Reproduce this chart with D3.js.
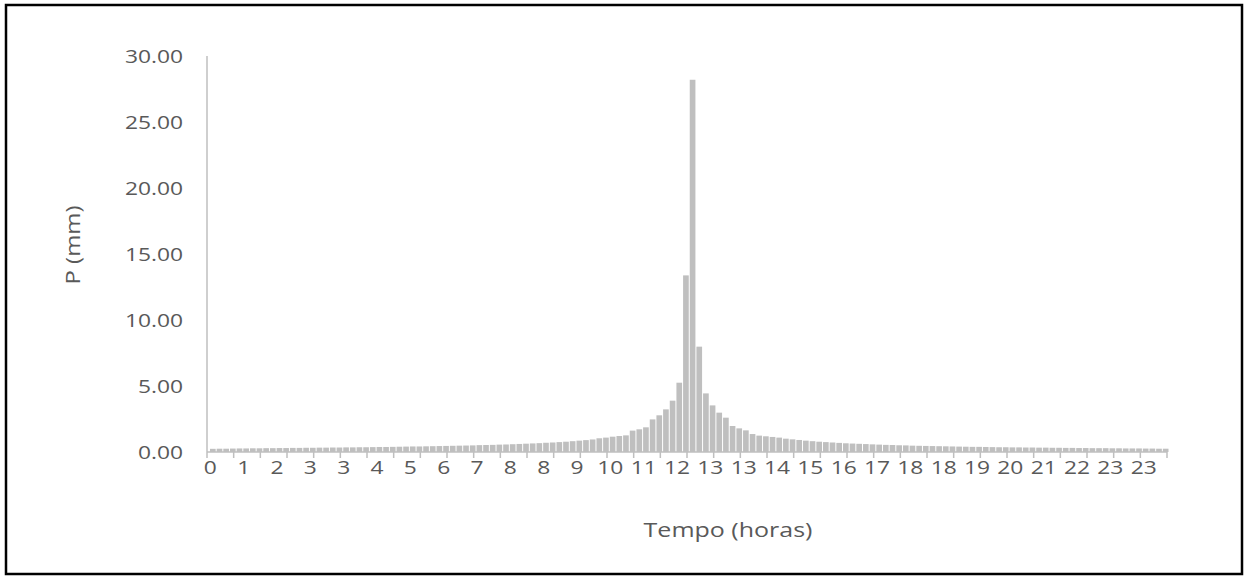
<!DOCTYPE html>
<html>
<head>
<meta charset="utf-8">
<script src="https://cdn.jsdelivr.net/npm/d3@7"></script>
<style>
  body { margin: 0; background: #fff; }
  text { font-family: "Open Sans", sans-serif; fill: #595959; }
</style>
</head>
<body>
<svg id="chart" width="1244" height="576"></svg>
<script>
// precipitation per 10 min step, 144 steps over 24 h
var steps = d3.range(144);
var precip = [
  0.24, 0.25, 0.25, 0.26, 0.27, 0.27, 0.28, 0.28, 0.29, 0.29, 0.30, 0.30,
  0.31, 0.31, 0.32, 0.32, 0.33, 0.33, 0.34, 0.34, 0.35, 0.35, 0.36, 0.36,
  0.37, 0.38, 0.38, 0.39, 0.40, 0.41, 0.42, 0.42, 0.43, 0.44, 0.45, 0.46,
  0.47, 0.48, 0.49, 0.50, 0.52, 0.53, 0.54, 0.56, 0.57, 0.59, 0.61, 0.63,
  0.65, 0.67, 0.70, 0.72, 0.75, 0.78, 0.82, 0.86, 0.90, 0.95, 1.04, 1.09,
  1.16, 1.21, 1.26, 1.62, 1.72, 1.87, 2.47, 2.78, 3.23, 3.89, 5.25, 13.38,
  28.20, 7.98, 4.44, 3.53, 2.98, 2.60, 1.97, 1.79, 1.64, 1.36, 1.24, 1.19,
  1.14, 1.09, 1.01, 0.96, 0.91, 0.86, 0.82, 0.78, 0.75, 0.72, 0.69, 0.66,
  0.64, 0.62, 0.60, 0.58, 0.56, 0.54, 0.53, 0.51, 0.50, 0.48, 0.47, 0.46,
  0.45, 0.44, 0.43, 0.42, 0.41, 0.40, 0.39, 0.39, 0.38, 0.37, 0.36, 0.36,
  0.35, 0.35, 0.34, 0.34, 0.33, 0.33, 0.32, 0.32, 0.31, 0.31, 0.30, 0.30,
  0.29, 0.29, 0.29, 0.28, 0.28, 0.27, 0.27, 0.27, 0.26, 0.26, 0.25, 0.25
];
// one label every 5 steps (hour, rounded)
var labelSteps = d3.range(0, 144, 5);
var hourLabels = ["0","1","2","3","3","4","5","6","7","8","8","9","10","11","12",
  "13","13","14","15","16","17","18","18","19","20","21","22","23","23"];
var yTicks = [0, 5, 10, 15, 20, 25, 30];

var svg = d3.select("#chart");

var plotL = 207, plotR = 1167, plotT = 56, plotB = 452;
var stretch = 1.2; // text in the picture is wider than normal

// bars sit a couple of px right of the axis start in the original
var x = d3.scaleBand().domain(steps).range([plotL + 2.5, plotR + 2]).paddingInner(0.15).paddingOuter(0.075);
var y = d3.scaleLinear().domain([0, 30]).range([plotB, plotT]);
var tickStep = (plotR - plotL) / 144;

// outer frame
svg.append("rect")
  .attr("x", 6).attr("y", 5).attr("width", 1236).attr("height", 569)
  .attr("fill", "none").attr("stroke", "#000").attr("stroke-width", 2.5);

// bars
svg.append("g").selectAll("rect")
  .data(steps)
  .enter()
  .append("rect")
  .attr("x", function(d) { return x(d); })
  .attr("width", x.bandwidth())
  .attr("y", function(d) { return y(precip[d]); })
  .attr("height", function(d) { return plotB - y(precip[d]); })
  .attr("fill", "#bfbfbf");

// y axis: line + labels
svg.append("line")
  .attr("x1", plotL).attr("x2", plotL).attr("y1", plotT).attr("y2", plotB)
  .attr("stroke", "#bfbfbf").attr("stroke-width", 1.5);

svg.append("g").selectAll("text")
  .data(yTicks)
  .enter()
  .append("text")
  .attr("transform", function(d) { return "translate(183," + y(d) + ") scale(" + stretch + ",1)"; })
  .attr("dy", "0.35em")
  .attr("text-anchor", "end")
  .style("font-size", "19px")
  .text(function(d) { return d3.format(".2f")(d); });

// x axis: line + tick marks every 4 steps
svg.append("line")
  .attr("x1", plotL).attr("x2", plotR).attr("y1", plotB).attr("y2", plotB)
  .attr("stroke", "#bfbfbf").attr("stroke-width", 1.5);

var tickPos = d3.range(0, 145, 4);
svg.append("g").selectAll("line")
  .data(tickPos)
  .enter()
  .append("line")
  .attr("x1", function(d) { return plotL + d * tickStep; })
  .attr("x2", function(d) { return plotL + d * tickStep; })
  .attr("y1", plotB).attr("y2", plotB + 6)
  .attr("stroke", "#bfbfbf").attr("stroke-width", 1.5);

svg.append("g").selectAll("text")
  .data(labelSteps)
  .enter()
  .append("text")
  .attr("transform", function(d) { return "translate(" + (plotL + (d + 0.5) * tickStep) + ",474) scale(" + stretch + ",1)"; })
  .attr("text-anchor", "middle")
  .style("font-size", "19px")
  .text(function(d, i) { return hourLabels[i]; });

// titles
svg.append("text")
  .attr("transform", "translate(80,245) rotate(-90) scale(" + stretch + ",1)")
  .attr("text-anchor", "middle")
  .style("font-size", "20px")
  .text("P (mm)");

svg.append("text")
  .attr("transform", "translate(728,537) scale(" + (stretch + 0.05) + ",1)")
  .attr("text-anchor", "middle")
  .style("font-size", "20px")
  .text("Tempo (horas)");
</script>
</body>
</html>
